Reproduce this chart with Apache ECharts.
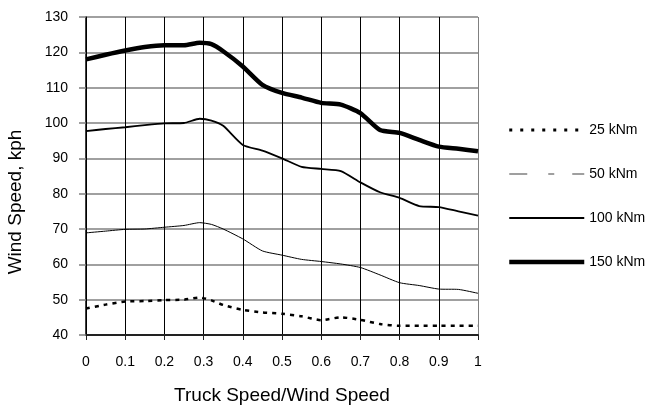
<!DOCTYPE html>
<html>
<head>
<meta charset="utf-8">
<script src="https://cdn.jsdelivr.net/npm/echarts@6/dist/echarts.min.js"></script>
<style>
  html, body { margin: 0; padding: 0; background: #fff; }
  #chart { width: 654px; height: 411px; }
</style>
</head>
<body>
<div id="chart"></div>
<script>
// truck speed / wind speed ratio
var ratio = [0, 0.05, 0.1, 0.15, 0.2, 0.25, 0.29, 0.32, 0.35, 0.4, 0.45, 0.5, 0.55, 0.6, 0.65, 0.7, 0.75, 0.8, 0.85, 0.9, 0.95, 1];

// wind speed (kph) for each overturning moment
var kNm25  = [47.5, 48.6, 49.5, 49.6, 49.9, 50, 50.6, 49.8, 48.5, 47.1, 46.4, 46, 45.3, 44.2, 45, 44.3, 43.1, 42.6, 42.6, 42.6, 42.6, 42.6];
var kNm50  = [68.9, 69.4, 69.9, 70, 70.5, 71, 71.8, 71.3, 70, 67.2, 63.8, 62.6, 61.4, 60.8, 60.1, 59.1, 57, 54.8, 54, 53, 52.9, 51.8];
var kNm100 = [97.7, 98.3, 98.8, 99.4, 99.9, 100, 101.2, 100.7, 99.2, 93.8, 92.2, 90, 87.6, 87, 86.4, 83.2, 80.4, 78.8, 76.5, 76.2, 75, 73.8];
var kNm150 = [118, 119.3, 120.5, 121.5, 122, 122, 122.7, 122.3, 120.3, 116, 110.8, 108.5, 107.2, 105.7, 105.2, 102.8, 98, 97.2, 95.2, 93.3, 92.7, 92];

var seriesNames = ['25 kNm', '50 kNm', '100 kNm', '150 kNm'];

function pairs(ys) {
    return ratio.map(function (x, i) { return [x, ys[i]]; });
}

var FONT = 'Liberation Sans';

// vertical grid lines: black, the last one (x = 1) gray like the frame
var vColors = [];
for (var i = 0; i < 10; i++) vColors.push('#000');
vColors.push('#808080');

// legend shows only the line, no marker
var noMarker = { opacity: 0, color: 'transparent', borderWidth: 0 };

var myChart = echarts.init(document.getElementById('chart'));
var option = {
    animation: false,
    backgroundColor: '#fff',
    textStyle: { fontFamily: FONT, color: '#000' },
    grid: { left: 86, right: 176, top: 17, bottom: 76 },
    legend: {
        orient: 'vertical',
        left: 507,
        top: 123,
        padding: 0,
        itemWidth: 75,
        itemHeight: 14,
        itemGap: 30,
        textStyle: { fontFamily: FONT, fontSize: 14, color: '#000' },
        data: [
            { name: '25 kNm', itemStyle: noMarker, lineStyle: { color: '#000', width: 3, type: [3, 8] } },
            { name: '50 kNm', itemStyle: noMarker, lineStyle: { color: '#808080', width: 1.5, type: [18, 21, 6, 18] } },
            { name: '100 kNm', itemStyle: noMarker, lineStyle: { color: '#000', width: 2 } },
            { name: '150 kNm', itemStyle: noMarker, lineStyle: { color: '#000', width: 4.5 } }
        ]
    },
    xAxis: {
        type: 'value',
        min: 0,
        max: 1,
        interval: 0.1,
        name: 'Truck Speed/Wind Speed',
        nameLocation: 'middle',
        nameGap: 51,
        nameTextStyle: { fontFamily: FONT, fontSize: 19, color: '#000' },
        axisLine: { lineStyle: { color: '#222', width: 2 } },
        axisTick: { show: true, length: 5, lineStyle: { color: '#222', width: 1 } },
        axisLabel: { fontFamily: FONT, fontSize: 14, color: '#000', margin: 20 },
        splitLine: { show: true, lineStyle: { color: vColors, width: 1 } }
    },
    yAxis: {
        type: 'value',
        min: 40,
        max: 130,
        interval: 10,
        axisLine: { show: true, lineStyle: { color: '#000', width: 1.5 } },
        axisTick: { show: true, length: 7, lineStyle: { color: '#808080', width: 1.5 } },
        axisLabel: { fontFamily: FONT, fontSize: 14, color: '#000', margin: 18 },
        splitLine: { show: true, lineStyle: { color: '#808080', width: 1.5 } }
    },
    graphic: [
        {
            type: 'text',
            x: 16,
            y: 202,
            rotation: Math.PI / 2,
            style: {
                text: 'Wind Speed, kph',
                fontFamily: FONT,
                fontSize: 19,
                fill: '#000',
                align: 'center',
                verticalAlign: 'middle'
            }
        }
    ],
    series: [
        {
            name: seriesNames[0], type: 'line', data: pairs(kNm25), symbol: 'none', smooth: 0.2,
            lineStyle: { color: '#000', width: 2.5, type: [4, 5] }, itemStyle: { color: '#000' }
        },
        {
            name: seriesNames[1], type: 'line', data: pairs(kNm50), symbol: 'none', smooth: 0.2,
            lineStyle: { color: '#000', width: 1 }, itemStyle: { color: '#808080' }
        },
        {
            name: seriesNames[2], type: 'line', data: pairs(kNm100), symbol: 'none', smooth: 0.2,
            lineStyle: { color: '#000', width: 1.8 }, itemStyle: { color: '#000' }
        },
        {
            name: seriesNames[3], type: 'line', data: pairs(kNm150), symbol: 'none', smooth: 0.2,
            lineStyle: { color: '#000', width: 4.5 }, itemStyle: { color: '#000' }
        }
    ]
};

myChart.setOption(option);
window.addEventListener('resize', function () {
    myChart.resize();
});
</script>
</body>
</html>
